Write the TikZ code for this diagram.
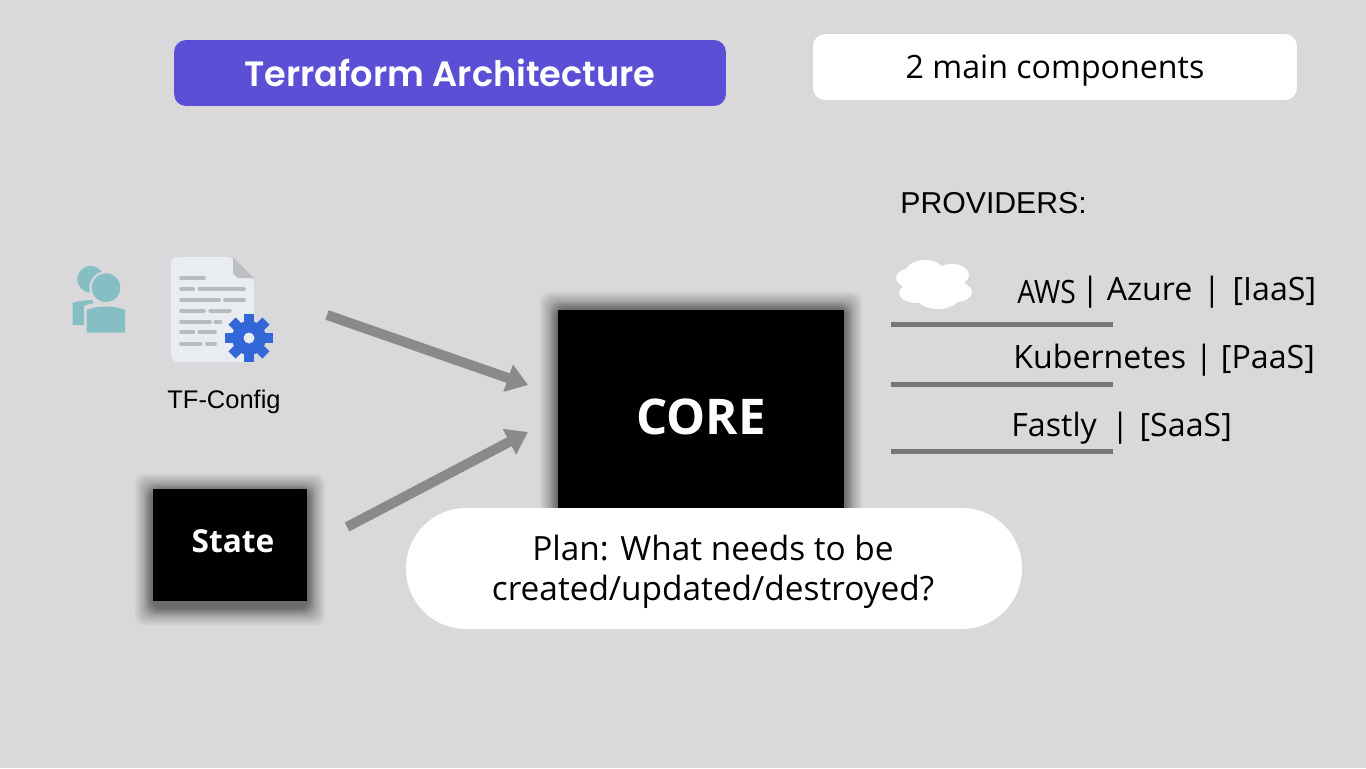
\documentclass[tikz,border=0pt]{standalone}
\usepackage{fontspec}
\usetikzlibrary{arrows.meta,backgrounds}
\newfontfamily\titlefont{Poppins}[BoldFont=Poppins SemiBold]
\newfontfamily\bodyfont{Open Sans}
\newfontfamily\heldfont{Liberation Sans}
\definecolor{slidegray}{HTML}{D9D9DB}
\definecolor{titleviolet}{HTML}{5B4FD6}
\definecolor{arrowgray}{HTML}{8A8A8A}
\definecolor{rulegray}{HTML}{777777}
\definecolor{userteal}{HTML}{85BFC4}
\definecolor{docpaper}{HTML}{E9ECF1}
\definecolor{docfold}{HTML}{BDBEC0}
\definecolor{docline}{HTML}{B9BBBD}
\definecolor{gearblue}{HTML}{3366D6}

\begin{document}
\begin{tikzpicture}[
    x=0.02cm, y=-0.02cm,
    titlebox/.style={
      rectangle, rounded corners=0.24cm, inner sep=0pt,
      minimum width=11.04cm, minimum height=1.32cm,
      fill=titleviolet, text=white, font=\titlefont\fontsize{20}{24}\selectfont\bfseries,
    },
    whitebox/.style={
      rectangle, rounded corners=0.24cm, inner sep=0pt,
      minimum width=9.68cm, minimum height=1.32cm,
      fill=white,
    },
    blackbox/.style={
      rectangle, inner sep=0pt, fill=black, text=white,
    },
    pill/.style={
      rectangle, rounded corners=1.2cm, inner sep=0pt,
      minimum width=12.32cm, minimum height=2.42cm,
      fill=white,
    },
    bodytext/.style={inner sep=0pt, text=black, font=\bodyfont\fontsize{18.3}{22}\selectfont},
    provtext/.style={bodytext, anchor=base west},
    arr/.style={-{Triangle[length=0.42cm,width=0.55cm]}, draw=arrowgray, line width=0.2cm},
    provrule/.style={draw=rulegray, line width=0.1cm},
    softglow/.style={fill=black, opacity=0.025, rounded corners=0.2cm},
  ]

  \useasboundingbox (0,0) rectangle (1366,768);

  % ---- Title row ----
  \node[titlebox] (title) at (450,73) {Terraform Architecture};
  \node[whitebox] (count) at (1055,67) {};
  \node[bodytext, anchor=base] (countlab) at (1055,78) {2 main components};

  % ---- Core and state ----
  \node[blackbox, minimum width=5.72cm, minimum height=4.3cm] (core) at (701,417.5) {};
  \node[inner sep=0pt, text=white, anchor=base, font=\bodyfont\fontsize{28}{34}\selectfont\bfseries] (corelab) at (701,434) {CORE};
  \node[blackbox, minimum width=3.08cm, minimum height=2.24cm] (state) at (230,545) {};
  \node[inner sep=0pt, text=white, anchor=base, font=\bodyfont\fontsize{18}{22}\selectfont\bfseries] (statelab) at (233,552) {State};
  \node[pill] (plan) at (714,568.5) {};
  \node[bodytext, anchor=base, font=\bodyfont\fontsize{19}{23}\selectfont] (planlab1) at (713,560) {Plan: What needs to be};
  \node[bodytext, anchor=base, font=\bodyfont\fontsize{19}{23}\selectfont] (planlab2) at (713,600) {created/updated/destroyed?};

  \begin{scope}[on background layer]
    \fill[slidegray] (0,0) rectangle (1366,768);
    \foreach \g in {1,1,2,2,3,3,4,4,5,5,6,6,7,7,8,8,9,10,11,12,13,14,15,16,17,18} {
      \fill[softglow] ([shift={(-\g,-\g)}]core.north west) rectangle ([shift={(\g,\g)}]core.south east);
      \fill[softglow] ([shift={(-\g,-\g+3)}]state.north west) rectangle ([shift={(\g,\g+6)}]state.south east);
    }
  \end{scope}

  % ---- People icon ----
  \fill[userteal] (90.7,279.3) circle (13.3);
  \fill[userteal] (72.7,325) -- (72.7,303) to[bend left=8] (92,300) -- (108,325) -- cycle;
  \fill[slidegray] (106,287.7) circle (16.5);
  \fill[slidegray] (84,336) -- (84,306) to[bend left=10] (106,302) to[bend left=10] (128,306) -- (128,336) -- cycle;
  \fill[userteal] (106,287.7) circle (14.3);
  \fill[userteal] (86.7,332.7) -- (86.7,310) to[bend left=10] (106,306.5) to[bend left=10] (125,310) -- (125,332.7) -- cycle;

  % ---- Config document ----
  \fill[docpaper, rounded corners=0.14cm] (171,362) -- (171,257) -- (233,257) -- (254,278) -- (254,362) -- cycle;
  \fill[docfold] (233,257) -- (254,278) -- (238,278) -- (233,273) -- cycle;
  \foreach \xa/\xb/\yy in {181/204/278.3, 181/193.3/289, 199.3/244/289, 181/219/300, 225/244/300,
      181/204/310.7, 210.3/229.7/310.7, 181/210/321.7, 215.3/220.3/321.7,
      181/193.3/332.3, 199.3/215/332.3, 181/200.7/343.7, 206.7/215/343.7}
    \draw[docline, line width=0.075cm, line cap=round] (\xa,\yy) -- (\xb,\yy);
  \fill[gearblue] (249,338) circle (17);
  \foreach \a in {0,45,...,315}
    \fill[gearblue, rotate around={\a:(249,338)}] (244,314) rectangle (254,326);
  \fill[docpaper] (249,338) circle (5.5);
  \node[inner sep=0pt, text=black, anchor=base, font=\heldfont\fontsize{14.5}{17}\selectfont] (tfconfig) at (224,408) {TF-Config};

  % ---- Arrows into core ----
  \coordinate (configout) at (327,315);
  \coordinate (corein1) at (528,385);
  \coordinate (stateout) at (347,527);
  \coordinate (corein2) at (528,432);
  \draw[arr] (configout) -- (corein1);
  \draw[arr] (stateout) -- (corein2);

  % ---- Providers ----
  \node[anchor=base west, inner sep=0pt, text=black, font=\heldfont\fontsize{17.2}{22}\selectfont] (providers) at (900,213) {PROVIDERS:};
  \foreach \cx/\cy/\rx/\ry in {925/273/20/13, 952/275/17/11, 912/278/16/10, 917/293/18/10, 938/296/22/13, 956/292/16/10, 935/285/30/14}
    \fill[white] (\cx,\cy) ellipse [x radius=\rx, y radius=\ry];

  \node[provtext] (aws) at (1017,303) {\scalebox{0.88}[1]{AWS}};
  \node[provtext] (azure) at (1081,300) {|\kern 0.24em Azure\kern 0.33em|\kern 0.37em[IaaS]};
  \node[provtext] (kube) at (1013,368) {Kubernetes\kern 0.28em|\kern 0.25em[PaaS]};
  \node[provtext] (fastly) at (1011,436) {Fastly\kern 0.45em|\kern 0.33em[SaaS]};

  \coordinate (rule1a) at (891,324);
  \coordinate (rule1b) at (1113,324);
  \coordinate (rule2a) at (891,384);
  \coordinate (rule2b) at (1113,384);
  \coordinate (rule3a) at (891,451);
  \coordinate (rule3b) at (1113,451);
  \draw[provrule] (rule1a) -- (rule1b);
  \draw[provrule] (rule2a) -- (rule2b);
  \draw[provrule] (rule3a) -- (rule3b);

\end{tikzpicture}
\end{document}
